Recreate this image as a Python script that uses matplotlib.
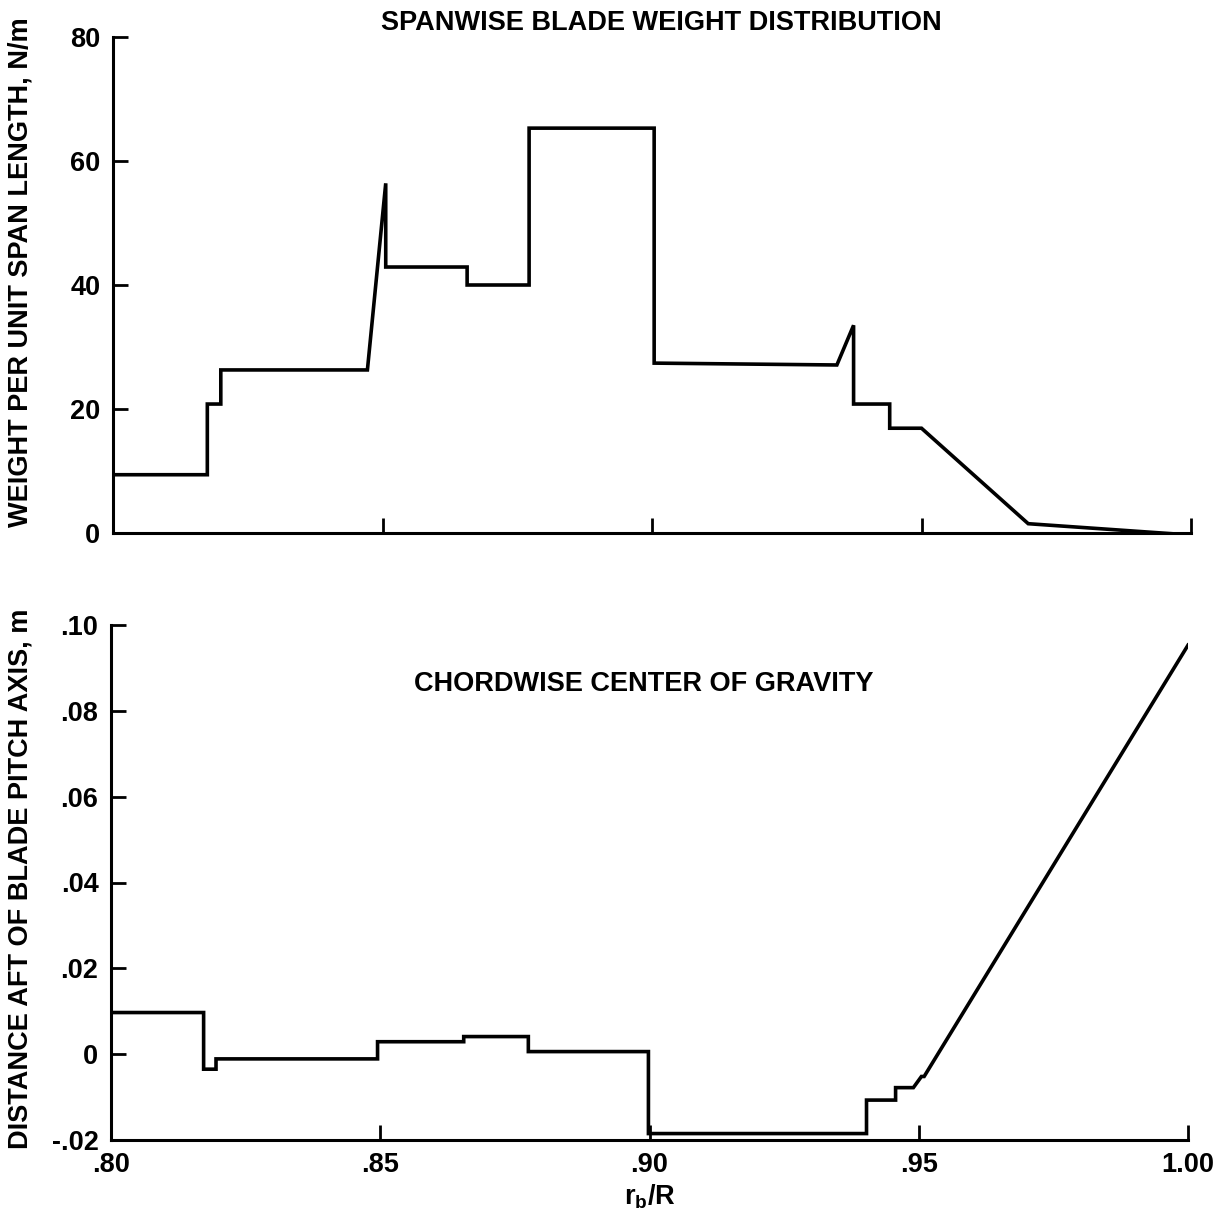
import matplotlib
matplotlib.use("Agg")
import matplotlib.pyplot as plt
from matplotlib.ticker import FixedLocator

plt.rcParams["font.family"] = ["Liberation Sans", "DejaVu Sans"]
plt.rcParams["font.weight"] = "bold"
plt.rcParams["mathtext.fontset"] = "custom"
plt.rcParams["mathtext.rm"] = "Liberation Sans:bold"
plt.rcParams["mathtext.bf"] = "Liberation Sans:bold"

# spanwise blade weight, N/m
weight_r = [0.800, 0.8175, 0.8175, 0.8200, 0.8200, 0.8472, 0.8506, 0.8506, 0.8657,
            0.8657, 0.8772, 0.8772, 0.9004, 0.9004, 0.9343, 0.9374, 0.9374, 0.9441,
            0.9441, 0.9500, 0.9698, 0.9995]
weight_w = [9.4, 9.4, 20.8, 20.8, 26.3, 26.3, 56.4, 42.9, 42.9,
            40.0, 40.0, 65.3, 65.3, 27.4, 27.1, 33.5, 20.8, 20.8,
            16.9, 16.9, 1.5, -0.3]

# chordwise centre of gravity aft of pitch axis, m
cg_r = [0.800, 0.8172, 0.8172, 0.8195, 0.8195, 0.8495, 0.8495, 0.8655, 0.8655,
        0.8775, 0.8775, 0.8998, 0.8998, 0.9403, 0.9403, 0.9457, 0.9457, 0.9490,
        0.9505, 0.9510, 1.000]
cg_x = [0.0097, 0.0097, -0.0035, -0.0035, -0.0011, -0.0011, 0.0029, 0.0029, 0.0041,
        0.0041, 0.0006, 0.0006, -0.0185, -0.0185, -0.0107, -0.0107, -0.0078, -0.0078,
        -0.0052, -0.0052, 0.0953]

x_ticks = [0.80, 0.85, 0.90, 0.95, 1.00]
x_labels = [".80", ".85", ".90", ".95", "1.00"]
w_ticks = [0, 20, 40, 60, 80]
cg_ticks = [-0.02, 0, 0.02, 0.04, 0.06, 0.08, 0.10]
cg_labels = ["-.02", "0", ".02", ".04", ".06", ".08", ".10"]

W, H = 1231, 1217
FS = 19.5
fig = plt.figure(figsize=(W / 100, H / 100), dpi=100)
ax1 = fig.add_axes([113 / W, 1 - 533 / H, (1191 - 113) / W, (533 - 37) / H])
ax2 = fig.add_axes([111 / W, 1 - 1140 / H, (1188 - 111) / W, (1140 - 625) / H])


def style(ax):
    for s in ("top", "right"):
        ax.spines[s].set_visible(False)
    for s in ("left", "bottom"):
        ax.spines[s].set_linewidth(2.2)
    ax.tick_params(direction="in", length=11, width=2, labelsize=FS, pad=9)
    for lab in ax.get_xticklabels() + ax.get_yticklabels():
        lab.set_fontweight("bold")


ax1.plot(weight_r, weight_w, color="black", lw=2.6, solid_joinstyle="miter")
ax1.set_xlim(0.80, 1.00)
ax1.set_ylim(0, 80)
ax1.xaxis.set_major_locator(FixedLocator(x_ticks))
ax1.set_xticklabels([])
ax1.set_yticks(w_ticks)
ax1.set_yticklabels([str(t) for t in w_ticks])
style(ax1)
ax1.set_ylabel("WEIGHT PER UNIT SPAN LENGTH, N/m", fontsize=FS, fontweight="bold")
ax1.yaxis.set_label_coords(-(113 - 34) / (1191 - 113), 0.526)
fig.text(661 / W, 1 - 23 / H, "SPANWISE BLADE WEIGHT DISTRIBUTION",
         ha="center", va="center", fontsize=FS, fontweight="bold")

ax2.plot(cg_r, cg_x, color="black", lw=2.6, solid_joinstyle="miter")
ax2.set_xlim(0.80, 1.00)
ax2.set_ylim(-0.02, 0.10)
ax2.set_xticks(x_ticks)
ax2.set_xticklabels(x_labels)
ax2.set_yticks(cg_ticks)
ax2.set_yticklabels(cg_labels)
style(ax2)
ax2.set_ylabel("DISTANCE AFT OF BLADE PITCH AXIS, m", fontsize=FS, fontweight="bold")
ax2.yaxis.set_label_coords(-(111 - 34) / (1188 - 111), 0.507)
ax2.set_xlabel(r"r$_\mathrm{b}$/R", fontsize=FS, fontweight="bold", labelpad=3)
ax2.text(0.495, 0.885, "CHORDWISE CENTER OF GRAVITY", transform=ax2.transAxes,
         ha="center", va="center", fontsize=FS, fontweight="bold")

fig.savefig("out.png", dpi=100)
